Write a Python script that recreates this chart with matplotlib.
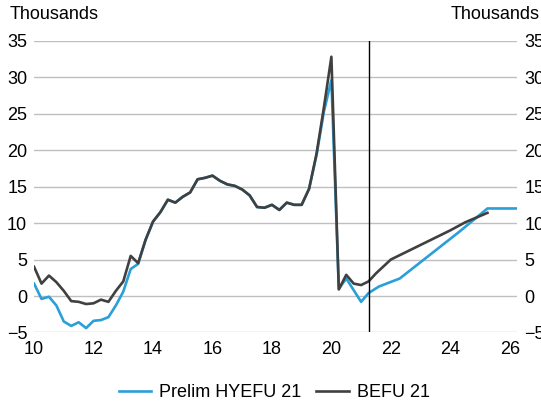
import matplotlib
matplotlib.use("Agg")
from matplotlib import pyplot as plt

plt.rcParams['font.family'] = ['Liberation Sans', 'DejaVu Sans']

# quarterly history, then forecast points
befu_x = [10.0, 10.25, 10.5, 10.75, 11.0, 11.25, 11.5, 11.75, 12.0, 12.25, 12.5, 12.75,
          13.0, 13.25, 13.5, 13.75, 14.0, 14.25, 14.5, 14.75, 15.0, 15.25, 15.5, 15.75,
          16.0, 16.25, 16.5, 16.75, 17.0, 17.25, 17.5, 17.75, 18.0, 18.25, 18.5, 18.75,
          19.0, 19.25, 19.5, 19.75, 20.0, 20.25, 20.5, 20.75, 21.0, 21.25, 21.5, 22.0,
          23.0, 24.0, 24.5, 25.25]
befu_y = [4.0, 1.7, 2.8, 1.9, 0.7, -0.7, -0.8, -1.1, -1.0, -0.5, -0.8, 0.7,
          2.0, 5.5, 4.5, 7.7, 10.2, 11.5, 13.2, 12.8, 13.6, 14.2, 16.0, 16.2,
          16.5, 15.8, 15.3, 15.1, 14.6, 13.8, 12.2, 12.1, 12.5, 11.8, 12.8, 12.5,
          12.5, 14.7, 19.5, 25.9, 32.8, 0.9, 2.9, 1.7, 1.5, 2.0, 3.1, 5.0,
          7.0, 9.0, 10.1, 11.4]

hyefu_x = [10.0, 10.25, 10.5, 10.75, 11.0, 11.25, 11.5, 11.75, 12.0, 12.25, 12.5, 12.75,
           13.0, 13.25, 13.5, 13.75, 14.0, 14.25, 14.5, 14.75, 15.0, 15.25, 15.5, 15.75,
           16.0, 16.25, 16.5, 16.75, 17.0, 17.25, 17.5, 17.75, 18.0, 18.25, 18.5, 18.75,
           19.0, 19.25, 19.5, 19.75, 20.0, 20.25, 20.5, 20.75, 21.0, 21.25, 21.6, 22.3,
           23.3, 24.3, 25.25, 26.3]
hyefu_y = [1.7, -0.4, -0.1, -1.3, -3.5, -4.1, -3.6, -4.4, -3.4, -3.3, -2.9, -1.3,
           0.6, 3.7, 4.4, 7.7, 10.2, 11.5, 13.2, 12.8, 13.6, 14.2, 16.0, 16.2,
           16.5, 15.8, 15.3, 15.1, 14.6, 13.8, 12.2, 12.1, 12.5, 11.8, 12.8, 12.5,
           12.5, 14.7, 19.3, 25.3, 29.6, 1.0, 2.4, 0.8, -0.8, 0.4, 1.3, 2.4,
           5.6, 8.8, 12.0, 12.0]

forecast_start = 21.25
yticks = [-5, 0, 5, 10, 15, 20, 25, 30, 35]
xticks = [10, 12, 14, 16, 18, 20, 22, 24, 26]

fig = plt.figure(figsize=(5.41, 4.03), dpi=100)
ax = fig.add_axes([0.063, 0.175, 0.893, 0.724])

for y in yticks:
    ax.axhline(y, color='#bfbfbf', lw=1.0, zorder=0)

ax.plot(hyefu_x, hyefu_y, color='#2a9fd8', lw=1.9, label='Prelim HYEFU 21')
ax.plot(befu_x, befu_y, color='#404040', lw=1.9, label='BEFU 21')
ax.axvline(forecast_start, color='#000000', lw=1.0)

ax.set_xlim(10, 26.25)
ax.set_ylim(-5, 35)
ax.set_xticks(xticks)
ax.set_yticks(yticks)
ax.tick_params(length=0, labelsize=13, colors='#000000', pad=5)
ax.tick_params(axis='x', pad=6)
ax.tick_params(axis='y', labelright=True)
for s in ax.spines.values():
    s.set_visible(False)

fig.text(0.018, 0.963, 'Thousands', fontsize=13, ha='left', va='center')
fig.text(0.998, 0.963, 'Thousands', fontsize=13, ha='right', va='center')

fig.legend(loc='center', bbox_to_anchor=(0.507, 0.025), ncol=2, frameon=False,
           fontsize=13, handlelength=1.8, columnspacing=0.8, handletextpad=0.45)

fig.savefig('out.png', dpi=100)
